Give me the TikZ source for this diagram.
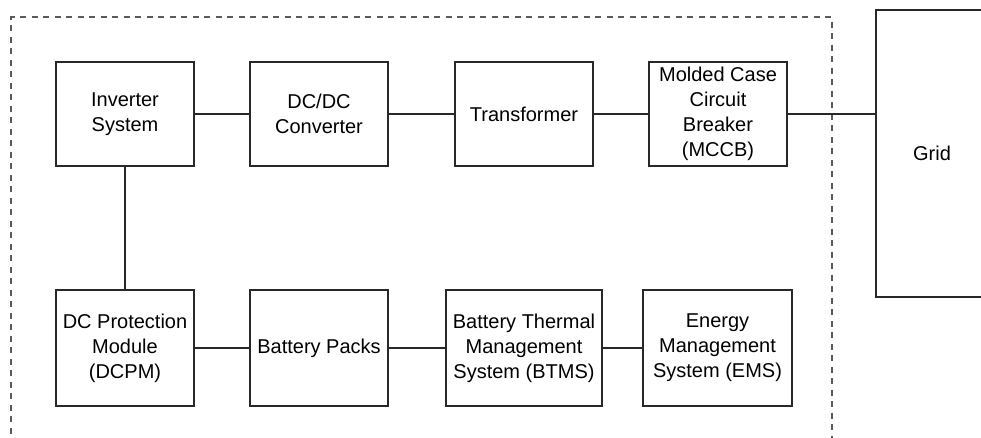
\documentclass[tikz,border=0pt]{standalone}
\usepackage{fontspec}
\setmainfont{Liberation Sans}
\definecolor{edgegray}{RGB}{40,40,40}
\definecolor{dashgray}{RGB}{90,90,90}
\tikzset{
  block/.style={draw=edgegray, line width=1.8pt, align=center, inner sep=0pt,
    font=\fontsize{20}{25}\selectfont, minimum width=138pt},
  link/.style={draw=edgegray, line width=2pt}
}
\begin{document}
\begin{tikzpicture}[x=1pt, y=-1pt]
    \useasboundingbox (0,0) rectangle (981,437);

    % system boundary
    \draw[dashgray, line width=1.5pt, dash pattern=on 6pt off 5.5pt] (11,445) -- (11,17) -- (832,17) -- (832,445);

    % Top row
    \node[block, minimum height=104pt] (inv) at (125,114) {Inverter\\System};
    \node[block, minimum height=104pt] (dcdc) at (319,114) {DC/DC\\Converter};
    \node[block, minimum height=104pt] (trafo) at (524,114) {Transformer};
    \node[block, minimum height=104pt] (mccb) at (718,114) {Molded Case\\Circuit\\Breaker\\(MCCB)};

    % Grid
    \node[block, minimum height=287pt, minimum width=112pt] (grid) at (932,153.5) {Grid};

    % Bottom row
    \node[block, minimum height=116pt] (dcpm) at (125,348) {DC Protection\\Module\\(DCPM)};
    \node[block, minimum height=116pt] (pack) at (319,348) {Battery Packs};
    \node[block, minimum height=116pt, minimum width=156pt] (btms) at (524,348) {Battery Thermal\\Management\\System (BTMS)};
    \node[block, minimum height=116pt, minimum width=149pt] (ems) at (717.5,348) {Energy\\Management\\System (EMS)};

    % connections
    \draw[link] (inv) -- (dcdc);
    \draw[link] (dcdc) -- (trafo);
    \draw[link] (trafo) -- (mccb);
    \draw[link] (mccb.east) -- (mccb.east -| grid.west);
    \draw[link] (inv) -- (dcpm);
    \draw[link] (dcpm) -- (pack);
    \draw[link] (pack) -- (btms);
    \draw[link] (btms) -- (ems);
\end{tikzpicture}
\end{document}
